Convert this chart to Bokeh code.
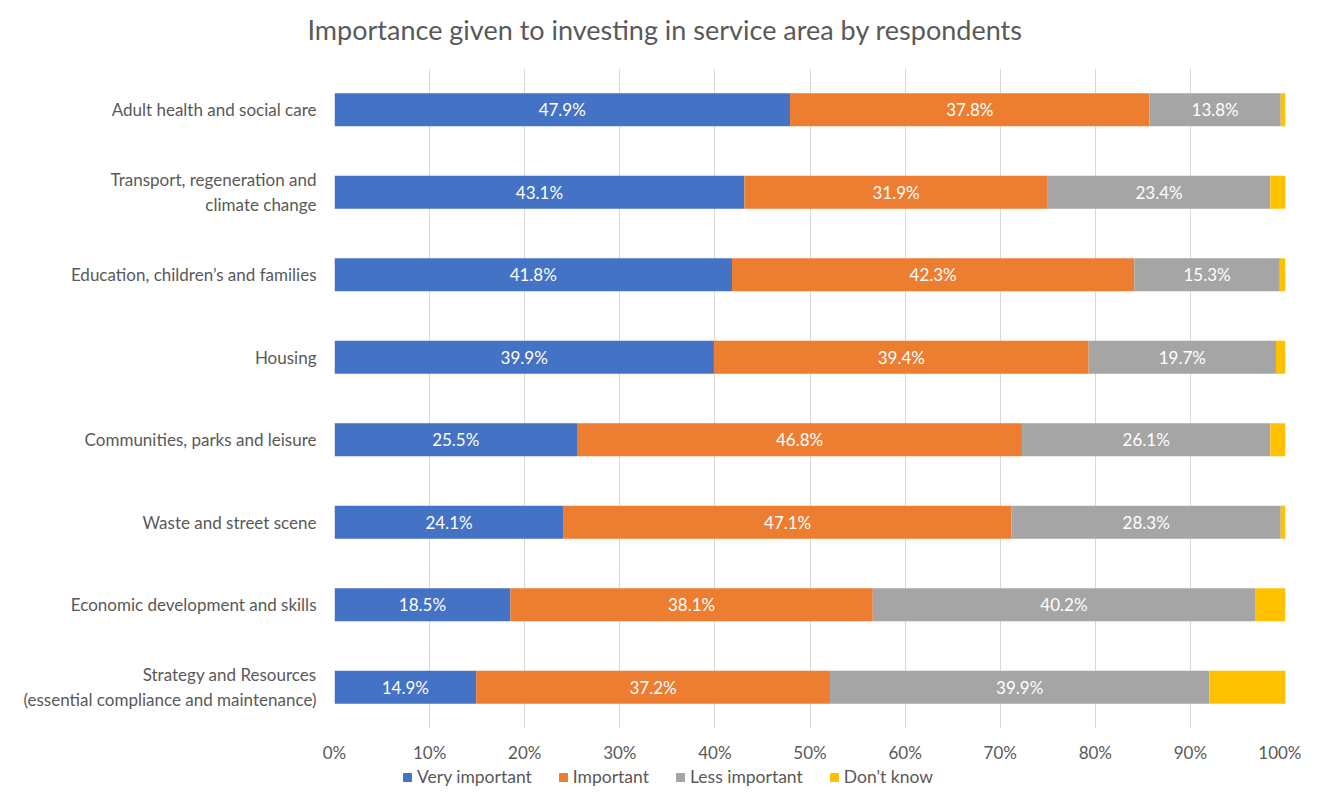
import numpy as np
from bokeh.plotting import figure
from bokeh.layouts import column
from bokeh.models import (ColumnDataSource, FactorRange, Range1d, FixedTicker,
                          PrintfTickFormatter, LabelSet, Legend, LegendItem, Title)
from bokeh.core.properties import value
from bokeh.embed import file_html
from bokeh.resources import INLINE

categories = [
    "Adult health and social care",
    "Transport, regeneration and\nclimate change",
    "Education, children\u2019s and families",
    "Housing",
    "Communities, parks and leisure",
    "Waste and street scene",
    "Economic development and skills",
    "Strategy and Resources\n(essential compliance and maintenance)",
]
very_important = [47.9, 43.1, 41.8, 39.9, 25.5, 24.1, 18.5, 14.9]
important = [37.8, 31.9, 42.3, 39.4, 46.8, 47.1, 38.1, 37.2]
less_important = [13.8, 23.4, 15.3, 19.7, 26.1, 28.3, 40.2, 39.9]
dont_know = [0.5, 1.6, 0.6, 1.0, 1.6, 0.5, 3.2, 8.0]

series_names = ["Very important", "Important", "Less important", "Don't know"]
series_keys = ["vi", "im", "li", "dk"]
colors = ["#4472C4", "#ED7D31", "#A5A5A5", "#FFC000"]
x_ticks = list(range(0, 101, 10))
title_text = "Importance given to investing in service area by respondents"

FONT = "Lato"
TXT = "#595959"

data = dict(cat=categories, vi=very_important, im=important, li=less_important, dk=dont_know)
source = ColumnDataSource(data)

p = figure(width=1301, height=765, y_range=FactorRange(*reversed(categories)),
           x_range=Range1d(0, 100), output_backend="svg", toolbar_location=None,
           title=None,
           min_border_left=334, min_border_right=16, min_border_top=68, min_border_bottom=37)

p.hbar_stack(series_keys, y="cat", height=0.4, color=colors, source=source, line_color=None)

# data labels (first three series)
vals = np.array([very_important, important, less_important])
cum = np.cumsum(vals, axis=0)
mids = cum - vals / 2
lab_cat, lab_x, lab_t = [], [], []
for s in range(3):
    for i, c in enumerate(categories):
        lab_cat.append(c)
        lab_x.append(float(mids[s, i]))
        lab_t.append(f"{vals[s, i]:.1f}%")
lsrc = ColumnDataSource(dict(cat=lab_cat, x=lab_x, t=lab_t))
p.add_layout(LabelSet(x="x", y="cat", text="t", source=lsrc, text_color="white",
                      text_font=value(FONT), text_font_size="17px", text_align="center",
                      text_baseline="middle"))

# axes
p.xaxis.ticker = FixedTicker(ticks=x_ticks)
p.xaxis.formatter = PrintfTickFormatter(format="%d%%")
p.xaxis.axis_line_color = None
p.xaxis.major_tick_line_color = None
p.xaxis.minor_tick_line_color = None
p.xaxis.major_label_text_font = FONT
p.xaxis.major_label_text_font_size = "17px"
p.xaxis.major_label_text_color = TXT
p.xaxis.major_label_standoff = 7

p.yaxis.axis_line_color = None
p.yaxis.major_tick_line_color = None
p.yaxis.minor_tick_line_color = None
p.yaxis.major_label_text_font = FONT
p.yaxis.major_label_text_font_size = "17px"
p.yaxis.major_label_text_color = TXT
p.yaxis.major_label_standoff = 12

p.xgrid.grid_line_color = "#D9D9D9"
p.xgrid.grid_line_width = 1
p.ygrid.grid_line_color = None
p.outline_line_color = None

# title: a blank spacer next to the frame, the real title above it
p.add_layout(Title(text=" ", text_font_size="17px", standoff=2), "above")
p.add_layout(Title(text=title_text, align="left", offset=-27, standoff=0,
                   text_font=FONT, text_font_size="27px", text_font_style="normal",
                   text_color=TXT), "above")

# legend strip below the chart (legend swatches use out-of-view zero-width bars)
leg = figure(width=1301, height=22, x_range=Range1d(0, 1), y_range=Range1d(0, 1),
             output_backend="svg", toolbar_location=None, x_axis_type=None,
             y_axis_type=None, min_border=0, outline_line_color=None)
leg.grid.visible = False
swatch = ColumnDataSource(dict(y=[-10.0], right=[0.0]))
leg_rs = [leg.hbar(y="y", right="right", height=0.5, color=c, source=swatch) for c in colors]
items = [LegendItem(label=n, renderers=[r]) for n, r in zip(series_names, leg_rs)]
legend = Legend(items=items, orientation="horizontal", location=(68, 0),
                label_text_font=FONT, label_text_font_size="17.5px", label_text_color=TXT,
                glyph_width=10, glyph_height=10, spacing=26, label_standoff=5,
                border_line_color=None, background_fill_alpha=0, padding=1, margin=0)
leg.add_layout(legend, "center")

layout = column(p, leg, spacing=0)
open("out.html", "w").write(file_html(layout, INLINE))
